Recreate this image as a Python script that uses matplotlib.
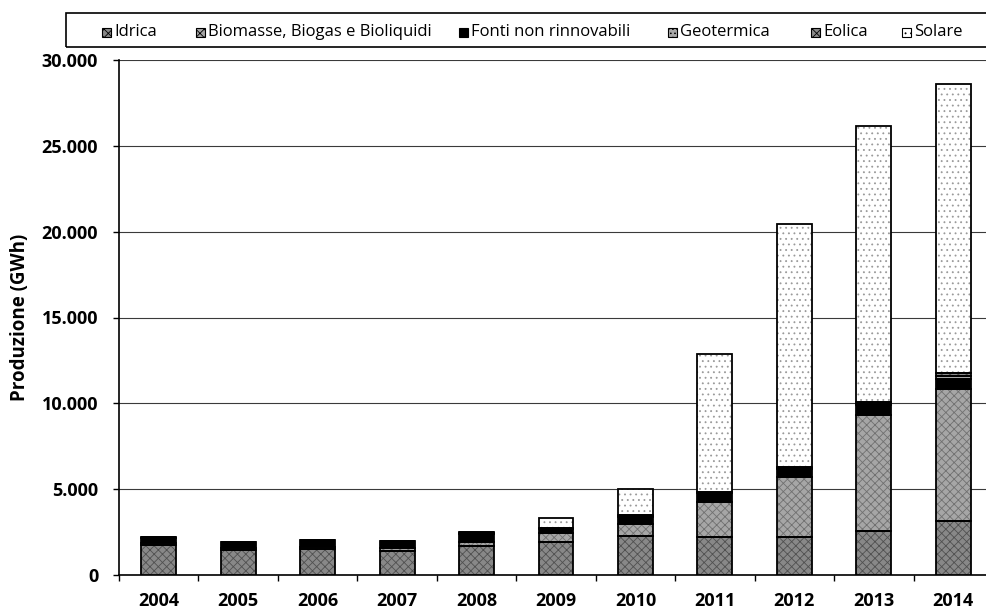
import numpy as np
import matplotlib
matplotlib.use("Agg")
import matplotlib.pyplot as plt
from matplotlib.patches import Rectangle
from matplotlib.ticker import FuncFormatter, MultipleLocator

# Produzione per fonte (GWh)
years = ["2004", "2005", "2006", "2007", "2008", "2009",
         "2010", "2011", "2012", "2013", "2014"]
idrica = [1750, 1470, 1530, 1400, 1700, 1940, 2270, 2230, 2200, 2560, 3130]
biomasse = [100, 100, 100, 170, 200, 490, 700, 2040, 3490, 6760, 7720]
fonti_non_rinnovabili = [330, 350, 390, 390, 470, 230, 430, 490, 470, 580, 550]
geotermica = [15, 10, 10, 10, 60, 30, 30, 30, 50, 90, 180]
eolica = [15, 10, 10, 10, 70, 30, 40, 30, 60, 100, 200]
solare = [0, 0, 0, 0, 0, 610, 1520, 8050, 14160, 16090, 16820]

series_names = ["Idrica", "Biomasse, Biogas e Bioliquidi", "Fonti non rinnovabili",
                "Geotermica", "Eolica", "Solare"]
series_values = [idrica, biomasse, fonti_non_rinnovabili, geotermica, eolica, solare]

# fill colour, hatch pattern, hatch colour
styles = [
    ("#888888", "xxxx", "#505050"),
    ("#a6a6a6", "xxxx", "#707070"),
    ("#000000", None, "#000000"),
    ("#a8a8a8", "....", "#606060"),
    ("#8a8a8a", "xxxx", "#505050"),
    ("#ffffff", "...", "#9a9a9a"),
]

plt.rcParams["font.family"] = ["Open Sans", "DejaVu Sans"]
plt.rcParams["hatch.linewidth"] = 0.6

W, H = 986, 612
fig = plt.figure(figsize=(W / 100, H / 100), dpi=100)
ax = fig.add_axes([119 / W, 1 - 575 / H, 874 / W, 515 / H])

x = np.arange(len(years))
bar_w = 0.44
bottom = np.zeros(len(years))
for vals, (face, hatch, hcol) in zip(series_values, styles):
    vals = np.asarray(vals, dtype=float)
    ax.bar(x, vals, bar_w, bottom=bottom, color=face, hatch=hatch,
           edgecolor=hcol, linewidth=0, zorder=3)
    ax.bar(x, vals, bar_w, bottom=bottom, fill=False,
           edgecolor="black", linewidth=1.3, zorder=4)
    bottom += vals

ax.set_xlim(-0.5, len(years) - 0.5)
ax.set_ylim(0, 30000)
ax.yaxis.set_major_locator(MultipleLocator(5000))
ax.yaxis.set_major_formatter(FuncFormatter(lambda v, p: f"{v:,.0f}".replace(",", ".")))
ax.yaxis.grid(True, color="#3a3a3a", linewidth=0.8)
ax.set_axisbelow(True)

ax.set_xticks(x)
ax.set_xticklabels(years)
ax.set_xticks(np.arange(-0.5, len(years), 1.0), minor=True)
ax.tick_params(axis="x", which="major", length=0, pad=12, labelsize=13)
ax.tick_params(axis="x", which="minor", length=4, width=1.0, direction="out")
ax.tick_params(axis="y", length=4, width=1.0, direction="out", pad=11, labelsize=13)
for lab in ax.get_xticklabels() + ax.get_yticklabels():
    lab.set_fontweight("bold")

for side in ("top", "right"):
    ax.spines[side].set_visible(False)
for side in ("left", "bottom"):
    ax.spines[side].set_linewidth(1.2)
    ax.spines[side].set_color("black")

ax.set_ylabel("Produzione (GWh)", fontsize=13.5, fontweight="bold", va="center")
ax.yaxis.set_label_coords((20 - 119) / 874, 0.5)

# legend strip across the top
fig.add_artist(Rectangle((66 / W, 1 - 47 / H), (1000 - 66) / W, 34 / H,
                         transform=fig.transFigure, fill=False,
                         edgecolor="black", linewidth=1.2))
marker_x = [102, 196, 459, 668, 811, 902]
for name, mx, (face, hatch, hcol) in zip(series_names, marker_x, styles):
    fig.add_artist(Rectangle((mx / W, 1 - 36.5 / H), 9 / W, 9 / H,
                             transform=fig.transFigure, facecolor=face,
                             hatch=hatch, edgecolor="black", linewidth=0.8))
    fig.text((mx + 12) / W, 1 - 32 / H, name, fontsize=12, va="center", ha="left")

fig.savefig("out.png", dpi=100)
